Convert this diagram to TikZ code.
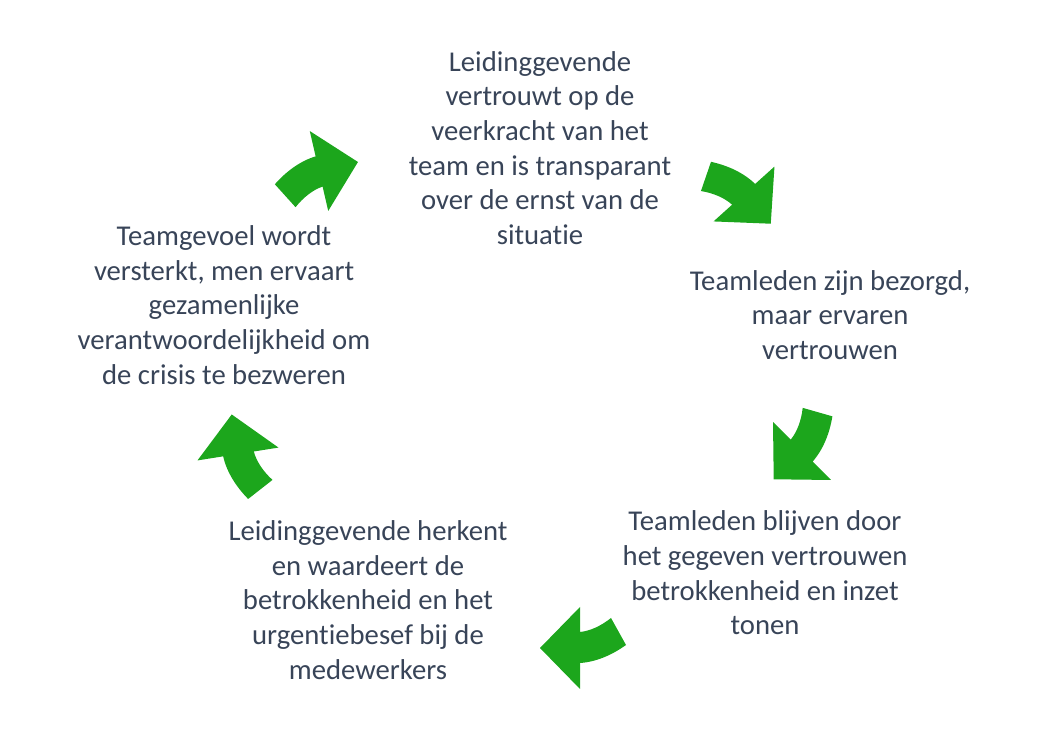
\documentclass[tikz,border=0pt]{standalone}
\usepackage{fontspec}
\setmainfont[Ligatures=NoCommon]{Carlito}
\usepackage{xcolor}
\usepackage{tikz}
\usetikzlibrary{positioning}

\definecolor{cycgreen}{RGB}{28,166,28}
\definecolor{cyctext}{RGB}{56,68,88}

\begin{document}
\begin{tikzpicture}[x=0.025cm, y=0.025cm,
    txt/.style={align=center, inner sep=0pt, text=cyctext, font=\fontsize{20.4}{24.6}\selectfont},
    cycarrow/.pic={
        \fill [cycgreen] (40,0) -- (0,41) -- (0,15) .. controls (-16,14) and (-32,7) .. (-46,-3)
            -- (-31,-30) .. controls (-21,-22) and (-10,-17) .. (0,-16) -- (0,-41) -- cycle;
    }]
    \useasboundingbox (0,0) rectangle (1042,738);

    \node [txt] (trust) at (540,590) {Leidinggevende\\vertrouwt op de\\veerkracht van het\\team en is transparant\\over de ernst van de\\situatie};
    \node [txt] (worried) at (830,423) {Teamleden zijn bezorgd,\\maar ervaren\\vertrouwen};
    \node [txt] (commit) at (765,165) {Teamleden blijven door\\het gegeven vertrouwen\\betrokkenheid en inzet\\tonen};
    \node [txt] (value) at (368,138) {Leidinggevende herkent\\en waardeert de\\betrokkenheid en het\\urgentiebesef bij de\\medewerkers};
    \node [txt] (team) at (224,433) {Teamgevoel wordt\\versterkt, men ervaart\\gezamenlijke\\verantwoordelijkheid om\\de crisis te bezweren};

    \pic [rotate=13] at (319,567) {cycarrow};
    \pic [rotate=-48] at (744,544) {cycarrow};
    \pic [rotate=-135] at (802,287) {cycarrow};
    \pic [rotate=180] at (580,90) {cycarrow};
    \pic [rotate=99] at (238,284) {cycarrow};
\end{tikzpicture}
\end{document}
